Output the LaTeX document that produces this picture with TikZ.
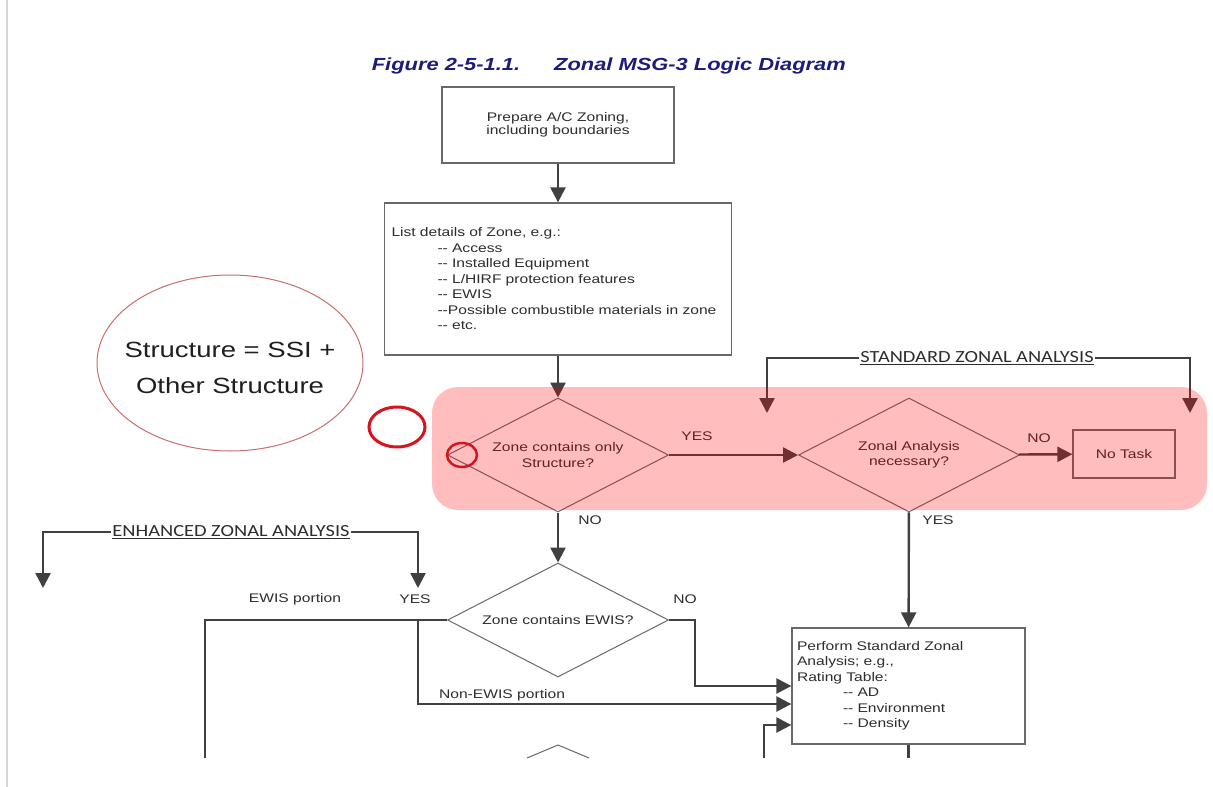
\documentclass[tikz,border=0pt]{standalone}
\usepackage{fontspec}
\newfontfamily\figfont[FakeStretch=1.25]{Liberation Sans}
\newfontfamily\capfont[FakeStretch=1.2]{Carlito}
\usetikzlibrary{shapes.geometric,arrows.meta}
\definecolor{inkgray}{RGB}{64,64,64}
\definecolor{boxgray}{RGB}{105,105,105}
\definecolor{txtgray}{RGB}{45,45,45}
\definecolor{figblue}{RGB}{28,28,122}
\definecolor{markred}{RGB}{212,20,30}
\definecolor{bubblered}{RGB}{200,110,110}
\definecolor{edgegray}{RGB}{215,215,215}
\tikzset{
  box/.style={draw=boxgray, line width=1.3pt, text=txtgray, font=\figfont\fontsize{12.5}{15.5}\selectfont},
  decision/.style={diamond, draw=boxgray, line width=1pt, aspect=1.94, minimum width=221pt, minimum height=114pt, inner sep=0pt, align=center, text=txtgray, font=\figfont\fontsize{12.5}{15.5}\selectfont},
  flow/.style={draw=inkgray, line width=2.4pt, -{Triangle[length=15pt,width=15pt]}},
  line/.style={draw=inkgray, line width=2.4pt},
  answer/.style={text=txtgray, font=\figfont\fontsize{12.5}{15}\selectfont, inner sep=0pt},
  bracketlbl/.style={text=txtgray, font=\capfont\fontsize{17}{17}\selectfont, inner sep=1.5pt},
  figtitle/.style={text=figblue, font=\figfont\bfseries\itshape\fontsize{17.5}{20}\selectfont},
}

\begin{document}
\begin{tikzpicture}[x=1pt,y=-1pt]
		%%%%% START %%%%%
		\useasboundingbox (0,0) rectangle (1213,787);
		\fill[white] (0,0) rectangle (1213,787);
		\draw[edgegray, line width=1.5pt] (7,0) -- (7,787);
		
		\node[figtitle] (figno) at (446,66) {Figure 2-5-1.1.};
		\node[figtitle] (figname) at (700,66) {Zonal MSG-3 Logic Diagram};
		
		\node[box, minimum width=232pt, minimum height=76pt, align=center, font=\figfont\fontsize{12.5}{12.5}\selectfont] (prep) at (558,125) {Prepare A/C Zoning,\\including boundaries};
		\node[box, text width=333pt, inner xsep=7pt, minimum height=152pt, align=left] (details) at (558,279) {List details of Zone, e.g.:\\
			\hspace*{46pt}-{}- Access\\
			\hspace*{46pt}-{}- Installed Equipment\\
			\hspace*{46pt}-{}- L/HIRF protection features\\
			\hspace*{46pt}-{}- EWIS\\
			\hspace*{46pt}-{}-Possible combustible materials in zone\\
			\hspace*{46pt}-{}- etc.};
		
		\node[decision] (onlystruct) at (558,455) {Zone contains only\\Structure?};
		\node[decision] (zanec) at (909,455) {Zonal Analysis\\necessary?};
		\node[box, minimum width=102pt, minimum height=48pt] (notask) at (1124,454) {No Task};
		\node[decision] (ewisq) at (558,620) {Zone contains EWIS?};
		\node[box, text width=223pt, inner xsep=5pt, minimum height=116pt, align=left] (perform) at (908.5,686) {Perform Standard Zonal\\Analysis; e.g.,\\Rating Table:\\
			\hspace*{46pt}-{}- AD\\
			\hspace*{46pt}-{}- Environment\\
			\hspace*{46pt}-{}- Density};
		
		\draw[flow] (prep) -- (details);
		\draw[flow] (details) -- (onlystruct);
		\draw[flow] (onlystruct) -- (zanec);
		\draw[flow] (zanec) -- (notask);
		\draw[flow] (onlystruct) -- (ewisq);
		\draw[flow] (zanec) -- (perform);
		\draw[flow] (ewisq.east) -- ++(26,0) |- (perform.west);
		
		\coordinate (split) at (418,620);
		\coordinate (ewisfoot) at (205,758);
		\coordinate (thirdfoot) at (764,758);
		\coordinate (performfoot) at (908.5,758);
		\draw[line] (ewisq.west) -| (ewisfoot);
		\draw[flow] (split) |- ([yshift=-18pt]perform.west);
		\draw[flow] (thirdfoot) |- ([yshift=-39pt]perform.west);
		\draw[line] (perform) -- (performfoot);
		
		\coordinate (nexttop) at (558,745);
		\draw[boxgray, line width=1pt] (527,758) -- (nexttop) -- (589,758);
		
		\node[answer] (yesone) at (697,436) {YES};
		\node[answer] (noone) at (1039,438) {NO};
		\node[answer] (notwo) at (590,520) {NO};
		\node[answer] (yestwo) at (938,520) {YES};
		\node[answer] (nothree) at (685,599) {NO};
		\node[answer] (yesthree) at (415,599) {YES};
		\node[answer] (ewispart) at (295,599) {EWIS portion};
		\node[answer] (nonewispart) at (502,695) {Non-EWIS portion};
		
		\node[bracketlbl] (stdlbl) at (977,358) {\underline{STANDARD ZONAL ANALYSIS}};
		\coordinate (stdleft) at (767,413);
		\coordinate (stdright) at (1190,413);
		\draw[flow] (stdlbl.west) -| (stdleft);
		\draw[flow] (stdlbl.east) -| (stdright);
		
		\node[bracketlbl] (enhlbl) at (231,532) {\underline{ENHANCED ZONAL ANALYSIS}};
		\coordinate (enhleft) at (43,588);
		\coordinate (enhright) at (418,588);
		\draw[flow] (enhlbl.west) -| (enhleft);
		\draw[flow] (enhlbl.east) -| (enhright);
		
		% highlight
		\fill[red, fill opacity=0.26, rounded corners=26pt] (432,387) rectangle (1207,510);
		
		\draw[bubblered, line width=1pt] (230,363) ellipse [x radius=133pt, y radius=88pt];
		\node[text=black!88, align=center, font=\figfont\fontsize{22}{36}\selectfont] (bubble) at (230,368) {Structure = SSI +\\Other Structure};
		\draw[markred, line width=3pt] (397,427) ellipse [x radius=28pt, y radius=20pt];
		\draw[markred, line width=2.5pt] (462,455) ellipse [x radius=15pt, y radius=12pt];
		%%%%% END %%%%%
\end{tikzpicture}
\end{document}
